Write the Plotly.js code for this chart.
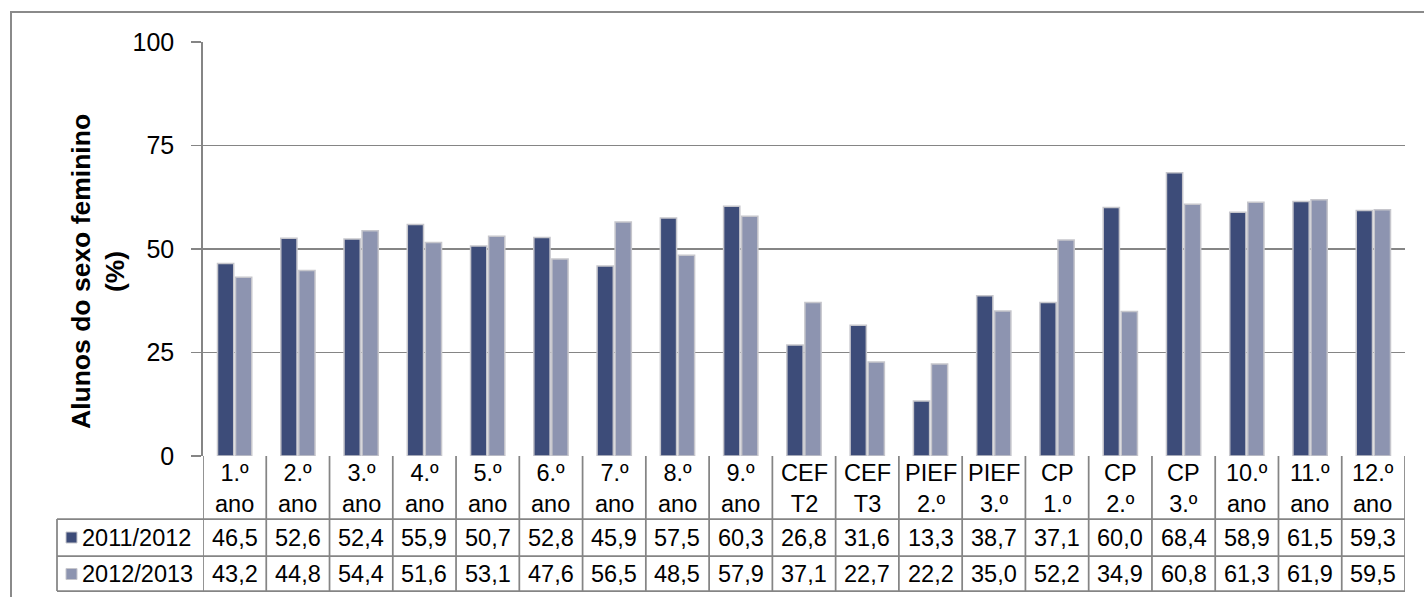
<!DOCTYPE html>
<html>
<head>
<meta charset="utf-8">
<script src="https://cdn.plot.ly/plotly-3.0.1.min.js"></script>
<style>html,body{margin:0;padding:0;background:#fff;}#chart{width:1424px;height:597px;}</style>
</head>
<body>
<div id="chart"></div>
<script>
const categories = ["1.º<br>ano","2.º<br>ano","3.º<br>ano","4.º<br>ano","5.º<br>ano","6.º<br>ano","7.º<br>ano","8.º<br>ano","9.º<br>ano","CEF<br>T2","CEF<br>T3","PIEF<br>2.º","PIEF<br>3.º","CP<br>1.º","CP<br>2.º","CP<br>3.º","10.º<br>ano","11.º<br>ano","12.º<br>ano"];
const seriesNames = ["2011/2012","2012/2013"];
const values2011 = [46.5,52.6,52.4,55.9,50.7,52.8,45.9,57.5,60.3,26.8,31.6,13.3,38.7,37.1,60.0,68.4,58.9,61.5,59.3];
const values2012 = [43.2,44.8,54.4,51.6,53.1,47.6,56.5,48.5,57.9,37.1,22.7,22.2,35.0,52.2,34.9,60.8,61.3,61.9,59.5];
const yTicks = [0,25,50,75,100];
const yTitle = "Alunos do sexo feminino<br>(%)";

const colors = ["#3d4c79","#8d94b0"];
const FONT = "Arial, 'Liberation Sans', sans-serif";
const W = 1424, H = 597;
const L = 203, R = 1405, T = 42, B = 456;
const pw = R - L, ph = B - T;
const px = p => (p - L) / pw;
const py = p => (B - p) / ph;

const xs = categories.map((c, i) => i);
const fmt = v => v.toFixed(1).replace('.', ',');

const traces = [values2011, values2012].map((vals, k) => ({
  type: 'bar', x: xs, y: vals, name: seriesNames[k],
  marker: {color: colors[k], line: {color: '#c6c6cc', width: 1.5}},
  hoverinfo: 'skip', showlegend: false
}));

const shapes = [];
const annotations = [];
const gridCol = '#858585';
const n = categories.length;
const TF = 23.5;
// outer chart border
shapes.push({type:'rect', xref:'paper', yref:'paper', x0:px(11), x1:px(1430), y0:py(605), y1:py(12), line:{color:'#8a8a8a', width:2}, fillcolor:'rgba(0,0,0,0)', layer:'below'});
// table vertical lines
for (let i = 0; i <= n; i++) {
  shapes.push({type:'line', xref:'x', yref:'paper', x0:i-0.5, x1:i-0.5, y0:py(B), y1:py(591), line:{color:gridCol, width:1.75}});
}
// legend column left edge
shapes.push({type:'line', xref:'paper', yref:'paper', x0:px(57), x1:px(57), y0:py(519), y1:py(591), line:{color:gridCol, width:1.75}});
// horizontal lines
[519, 556, 591].forEach(p => {
  shapes.push({type:'line', xref:'paper', yref:'paper', x0:px(57), x1:px(R), y0:py(p), y1:py(p), line:{color:gridCol, width:1.75}});
});
// legend squares
[[537.5, colors[0]], [574, colors[1]]].forEach(([cy, col]) => {
  shapes.push({type:'rect', xref:'paper', yref:'paper', x0:px(66), x1:px(77), y0:py(cy+5.5), y1:py(cy-5.5), fillcolor:col, line:{color:'#c6c6cc', width:1}});
});
// category labels
categories.forEach((c, i) => {
  annotations.push({x:i, y:py(489), xref:'x', yref:'paper', text:c, showarrow:false, font:{family:FONT, size:TF, color:'#000'}, xanchor:'center', yanchor:'middle'});
  annotations.push({x:i, y:py(537.5), xref:'x', yref:'paper', text:fmt(values2011[i]), showarrow:false, font:{family:FONT, size:TF, color:'#000'}, xanchor:'center', yanchor:'middle'});
  annotations.push({x:i, y:py(574), xref:'x', yref:'paper', text:fmt(values2012[i]), showarrow:false, font:{family:FONT, size:TF, color:'#000'}, xanchor:'center', yanchor:'middle'});
});
seriesNames.forEach((s, k) => {
  annotations.push({x:px(80), y:py(k===0?537.5:574), xref:'paper', yref:'paper', text:s, showarrow:false, font:{family:FONT, size:TF, color:'#000'}, xanchor:'left', yanchor:'middle'});
});
// y title
annotations.push({x:px(98), y:py(272), xref:'paper', yref:'paper', text:yTitle, textangle:-90, showarrow:false, font:{family:FONT, size:26.5, color:'#000', weight:'bold'}, xanchor:'center', yanchor:'middle'});

const layout = {
  width: W, height: H,
  margin: {l: L, r: W - R, t: T, b: H - B, pad: 0},
  paper_bgcolor: '#fff', plot_bgcolor: '#fff',
  barmode: 'group', bargap: 0.43, bargroupgap: 0.1,
  xaxis: {range: [-0.5, n - 0.5], showticklabels: false, ticks: '', showgrid: false, zeroline: false, showline: false, fixedrange: true},
  yaxis: {range: [0, 100], tickvals: yTicks, ticktext: yTicks.map(String), ticks: 'outside', ticklen: 10, tickcolor: gridCol, tickwidth: 1.75,
          showgrid: true, gridcolor: gridCol, gridwidth: 1.75, showline: true, linecolor: gridCol, linewidth: 1.75, zeroline: false,
          ticklabelstandoff: 12, tickfont: {family: FONT, size: 25, color: '#000'}, fixedrange: true},
  shapes: shapes, annotations: annotations,
  font: {family: FONT}
};
Plotly.newPlot('chart', traces, layout, {displayModeBar: false, staticPlot: true});
</script>
</body>
</html>
